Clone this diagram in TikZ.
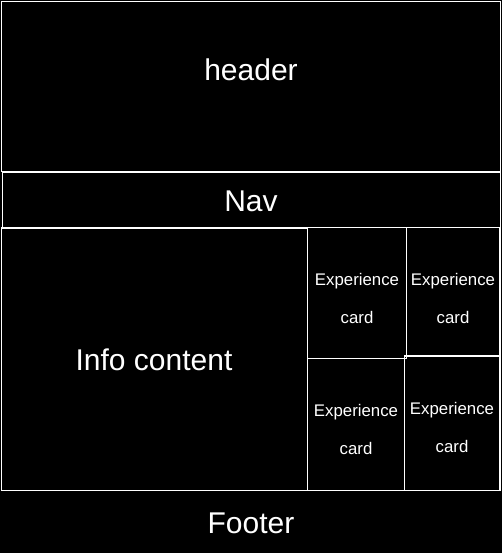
\documentclass[tikz,border=0pt]{standalone}
\usepackage{fontspec}
\setmainfont{Liberation Sans}
\begin{document}
\begin{tikzpicture}[x=1pt,y=-1pt,
  box/.style={draw=white,line width=1.2pt},
  big/.style={text=white,font=\fontsize{30}{34}\selectfont},
  small/.style={text=white,font=\fontsize{16.8}{20}\selectfont,align=center}]
\fill[black] (0,0) rectangle (502,553);
\useasboundingbox (0,0) rectangle (502,553);
% header
\draw[box] (1.5,1.5) rectangle (500.5,171.5);
\node[big] (hdr) at (251,70) {header};
% nav
\draw[box] (2.5,172) rectangle (500.5,227.5);
\node[big] (nav) at (251,201) {Nav};
% info content
\draw[box] (1.5,228) rectangle (307.3,490.7);
\node[big] (info) at (154,360) {Info content};
% cards
\draw[box] (307.3,227.5) rectangle (406.3,358.3);
\draw[box] (406.3,227.5) rectangle (500,356);
\draw[box] (307.3,358.3) rectangle (404.3,490.7);
\draw[box] (404.3,356) rectangle (500,490.3);
\node[small] (c1a) at (357,281) {Experience};
\node[small] (c1b) at (357,317) {card};
\node[small] (c2a) at (453,281) {Experience};
\node[small] (c2b) at (453,317) {card};
\node[small] (c3a) at (356,412) {Experience};
\node[small] (c3b) at (356,448) {card};
\node[small] (c4a) at (452,410) {Experience};
\node[small] (c4b) at (452,446) {card};
% footer
\node[big] (ftr) at (251,523) {Footer};
\end{tikzpicture}
\end{document}
